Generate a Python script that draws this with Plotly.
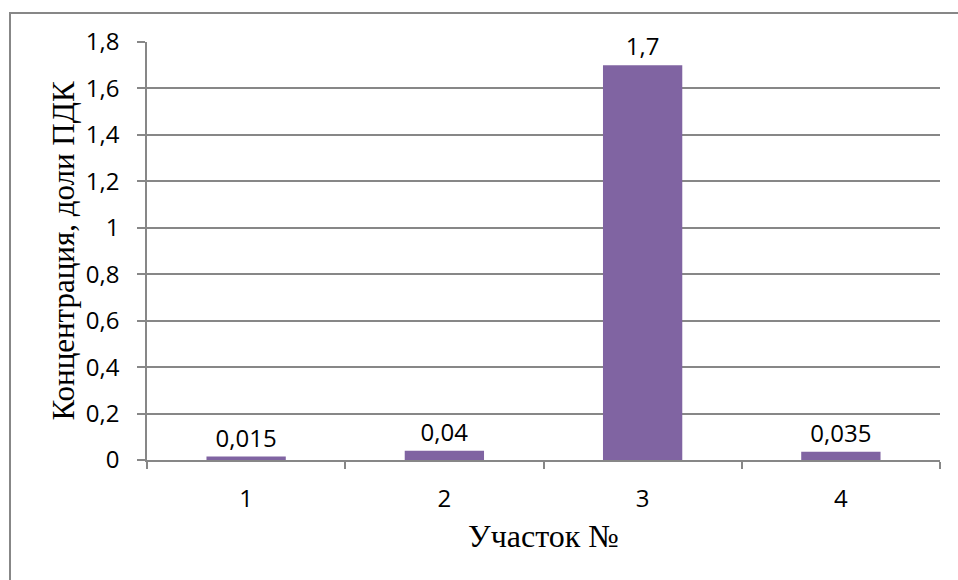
import plotly.graph_objects as go

# Участки и концентрация (доли ПДК)
sites = ["1", "2", "3", "4"]
concentration = [0.015, 0.04, 1.7, 0.035]
y_ticks = [0, 0.2, 0.4, 0.6, 0.8, 1.0, 1.2, 1.4, 1.6, 1.8]

W, H = 958, 580
ML, MR, MT, MB = 147, 18, 42, 120
pw, ph = W - ML - MR, H - MT - MB

GRID = "#878787"
BAR = "#8064A2"
SANS = "Open Sans, Liberation Sans, sans-serif"
SERIF = "Liberation Serif, Times New Roman, serif"


def fmt(v):
    s = ("%g" % v)
    return s.replace(".", ",")


fig = go.Figure(
    go.Bar(
        x=sites,
        y=concentration,
        marker=dict(color=BAR, line=dict(width=0)),
        text=[fmt(v) for v in concentration],
        textposition="outside",
        textfont=dict(family=SANS, size=24, color="black"),
        cliponaxis=False,
    )
)

# outer chart frame (left and top edges fall inside the page)
fx0 = (10 - ML) / pw
fx1 = (W + 5 - ML) / pw
fy1 = 1 + (MT - 13) / ph
fy0 = -(MB + 5) / ph
fig.add_shape(type="rect", xref="paper", yref="paper",
              x0=fx0, x1=fx1, y0=fy0, y1=fy1,
              line=dict(color=GRID, width=2), fillcolor="rgba(0,0,0,0)", layer="below")

fig.update_layout(
    width=W, height=H,
    margin=dict(l=ML, r=MR, t=MT, b=MB),
    paper_bgcolor="white", plot_bgcolor="white",
    separators=", ",
    bargap=0.6,
    showlegend=False,
    xaxis=dict(
        type="category",
        showline=True, linecolor=GRID, linewidth=1.5,
        ticks="outside", tickson="boundaries", ticklen=7, tickcolor=GRID, tickwidth=1.5,
        tickfont=dict(family=SANS, size=24, color="black"),
        ticklabelstandoff=16,
        showgrid=False,
        title=dict(text="Участок №", font=dict(family=SERIF, size=32, color="black"), standoff=12),
    ),
    yaxis=dict(
        range=[0, 1.8],
        tickvals=y_ticks,
        ticktext=[fmt(v) for v in y_ticks],
        showline=True, linecolor=GRID, linewidth=1.5,
        ticks="outside", ticklen=8, tickcolor=GRID, tickwidth=1.5,
        tickfont=dict(family=SANS, size=24, color="black"),
        ticklabelstandoff=13,
        showgrid=True, gridcolor=GRID, gridwidth=1.5,
        zeroline=False,
        title=dict(text="Концентрация, доли ПДК", font=dict(family=SERIF, size=31, color="black"), standoff=2),
    ),
)

fig.write_html("out.html")
